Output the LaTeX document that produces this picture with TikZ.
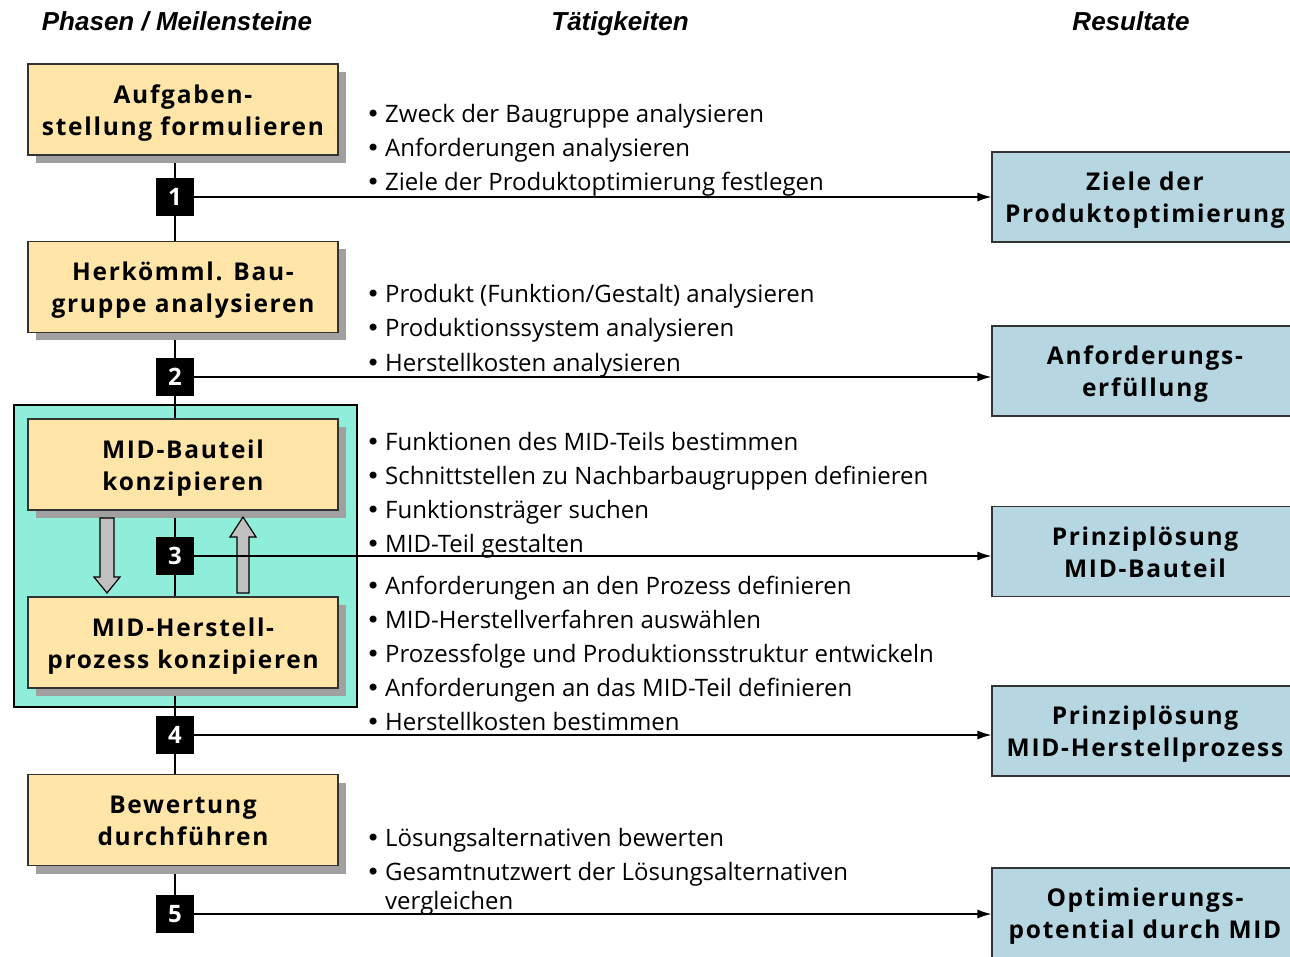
\documentclass[tikz,border=0pt]{standalone}
\usepackage{fontspec}
\setmainfont{Open Sans}
\newfontfamily\hdfont{Liberation Sans}
\newfontfamily\dvfont{DejaVu Sans}
\newfontfamily\boxfont[LetterSpace=7]{Open Sans}
\usetikzlibrary{shadows,arrows.meta}
\definecolor{phaseyellow}{HTML}{FFE5A8}
\definecolor{framecyan}{HTML}{8EEEDA}
\definecolor{resblue}{HTML}{B6D7E2}
\definecolor{shadowgray}{HTML}{A0A0A0}
\definecolor{arrgray}{HTML}{C0C0C0}
\newcommand{\btxt}[1]{\raisebox{-3.5pt}[\height][\depth]{\begin{tabular}{@{}c@{}}#1\end{tabular}}}
\begin{document}
\begin{tikzpicture}[x=1pt,y=-1pt,
  phase/.style={draw=black!80, line width=1.2pt, fill=phaseyellow, minimum width=310pt, minimum height=91pt, inner sep=0pt,
    font=\boxfont\bfseries\fontsize{24.5}{32}\selectfont,
    general shadow={fill=shadowgray, shadow xshift=8pt, shadow yshift=-8pt}},
  result/.style={draw=black!80, line width=1.2pt, fill=resblue, minimum width=306pt, minimum height=90pt, inner sep=0pt,
    font=\boxfont\bfseries\fontsize{24.5}{32}\selectfont},
  mile/.style={fill=black, minimum size=38pt, inner sep=0pt, text=white, font=\bfseries\fontsize{24}{26}\selectfont},
  spine/.style={line width=1.3pt, black},
  flow/.style={line width=1.3pt, black, -{Latex[length=14pt,width=9pt]}},
  act/.style={anchor=base west, inner sep=0pt, font=\fontsize{24}{28}\selectfont},
  head/.style={anchor=base, inner sep=0pt, font=\hdfont\bfseries\itshape\fontsize{26}{28}\selectfont},
  grayarrow/.style={fill=arrgray, draw=black, line width=1.2pt, line join=miter}
]
\clip (0,0) rectangle (1290,957);
\fill[white] (0,0) rectangle (1290,957);

% headers
\node[head] (h1) at (177,31) {Phasen / Meilensteine};
\node[head] (h2) at (620,31) {Tätigkeiten};
\node[head] (h3) at (1131,31) {Resultate};

% cyan frame
\draw[fill=framecyan, line width=2pt] (14,405) rectangle (357,707);

% milestones positions
\coordinate (c1) at (175,197);
\coordinate (c2) at (175,377);
\coordinate (c3) at (175,556);
\coordinate (c4) at (175,735);
\coordinate (c5) at (175,914);

% spine
\draw[spine] (175,155) -- (175,914);

% phase boxes
\node[phase] (b1) at (183,109.5) {\btxt{Aufgaben-\\stellung formulieren}};
\node[phase] (b2) at (183,287) {\btxt{Herkömml. Bau-\\gruppe analysieren}};
\node[phase] (b3) at (183,464.5) {\btxt{MID-Bauteil\\konzipieren}};
\node[phase] (b4) at (183,642.5) {\btxt{MID-Herstell-\\prozess konzipieren}};
\node[phase] (b5) at (183,820) {\btxt{Bewertung\\durchführen}};

% gray arrows between b3 and b4
\draw[grayarrow] (100,518) -- (114,518) -- (114,577) -- (120,577) -- (107,593) -- (94,577) -- (100,577) -- cycle;
\draw[grayarrow] (237,593) -- (249,593) -- (249,537) -- (256,537) -- (243,517) -- (230,537) -- (237,537) -- cycle;

% result boxes
\node[result] (r1) at (1145,197) {\btxt{Ziele der\\Produktoptimierung}};
\node[result] (r2) at (1145,371) {\btxt{Anforderungs-\\erfüllung}};
\node[result] (r3) at (1145,551.5) {\btxt{Prinziplösung\\MID-Bauteil}};
\node[result] (r4) at (1145,731) {\btxt{Prinziplösung\\MID-Herstellprozess}};
\node[result] (r5) at (1145,913) {\btxt{Optimierungs-\\potential durch MID}};

% milestone squares
\node[mile] (m1) at (c1) {1};
\node[mile] (m2) at (c2) {2};
\node[mile] (m3) at (c3) {3};
\node[mile] (m4) at (c4) {4};
\node[mile] (m5) at (c5) {5};

% flows
\draw[flow] (m1.east) -- (m1 -| r1.west);
\draw[flow] (m2.east) -- (m2 -| r2.west);
\draw[flow] (m3.east) -- (m3 -| r3.west);
\draw[flow] (m4.east) -- (m4 -| r4.west);
\draw[flow] (m5.east) -- (m5 -| r5.west);

% activities
\newcommand{\bul}[1]{\makebox[19pt][l]{\dvfont •}#1}
\node[act] (a11) at (366,123) {\bul{Zweck der Baugruppe analysieren}};
\node[act] (a12) at (366,157) {\bul{Anforderungen analysieren}};
\node[act] (a13) at (366,191) {\bul{Ziele der Produktoptimierung festlegen}};
\node[act] (a21) at (366,303) {\bul{Produkt (Funktion/Gestalt) analysieren}};
\node[act] (a22) at (366,337) {\bul{Produktionssystem analysieren}};
\node[act] (a23) at (366,371) {\bul{Herstellkosten analysieren}};
\node[act] (a31) at (366,450) {\bul{Funktionen des MID-Teils bestimmen}};
\node[act] (a32) at (366,484) {\bul{Schnittstellen zu Nachbarbaugruppen definieren}};
\node[act] (a33) at (366,518) {\bul{Funktionsträger suchen}};
\node[act] (a34) at (366,552) {\bul{MID-Teil gestalten}};
\node[act] (a41) at (366,594) {\bul{Anforderungen an den Prozess definieren}};
\node[act] (a42) at (366,628) {\bul{MID-Herstellverfahren auswählen}};
\node[act] (a43) at (366,662) {\bul{Prozessfolge und Produktionsstruktur entwickeln}};
\node[act] (a44) at (366,696) {\bul{Anforderungen an das MID-Teil definieren}};
\node[act] (a45) at (366,730) {\bul{Herstellkosten bestimmen}};
\node[act] (a51) at (366,846) {\bul{Lösungsalternativen bewerten}};
\node[act] (a52) at (366,880) {\bul{Gesamtnutzwert der Lösungsalternativen}};
\node[act] (a53) at (385,909) {vergleichen};
\end{tikzpicture}
\end{document}
